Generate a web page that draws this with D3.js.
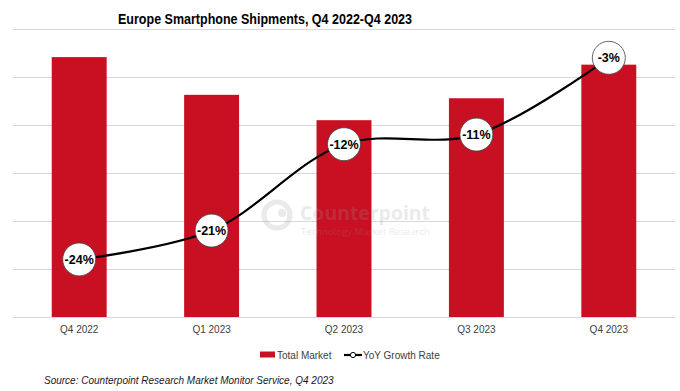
<!DOCTYPE html>
<html><head><meta charset="utf-8">
<script src="https://cdn.jsdelivr.net/npm/d3@7"></script>
<style>body{margin:0;background:#fff}svg{display:block}</style>
</head><body>
<svg id="c" width="680" height="391"></svg>
<script>
const categories = ["Q4 2022","Q1 2023","Q2 2023","Q3 2023","Q4 2023"];
const totalMarket = [37.9, 32.4, 28.7, 31.9, 36.8];
const yoyGrowth = [-24, -21, -12, -11, -3];
const yoyLabels = ["-24%","-21%","-12%","-11%","-3%"];
const leftTicks = [0, 7, 14, 21, 28, 35, 42];

const svg = d3.select("#c");
const W = 680, H = 391;
const m = {l: 13, r: 5, t: 29, b: 73};
const x = d3.scaleBand().domain(categories).range([m.l, W - m.r]).paddingInner(0.585).paddingOuter(0.2925);
const y = d3.scaleLinear().domain([0, 42]).range([H - m.b - 1, m.t]);
const y2 = d3.scaleLinear().domain([-30, 0]).range([H - m.b - 1, m.t]);

// title
svg.append("text").attr("x", 265).attr("y", 24).attr("text-anchor", "middle")
  .attr("font-family", "Liberation Sans, Arial, sans-serif").attr("font-weight", "bold")
  .attr("font-size", 15).attr("fill", "#000")
  .attr("textLength", 294).attr("lengthAdjust", "spacingAndGlyphs")
  .text("Europe Smartphone Shipments, Q4 2022-Q4 2023");

// gridlines
svg.append("g").selectAll("line").data(leftTicks).join("line")
  .attr("x1", m.l).attr("x2", W - m.r)
  .attr("y1", d => y(d) + 0.5).attr("y2", d => y(d) + 0.5)
  .attr("stroke", "#d9d9d9").attr("stroke-width", 1);

// bars
svg.append("g").selectAll("rect").data(totalMarket).join("rect")
  .attr("x", (d, i) => x(categories[i])).attr("width", x.bandwidth())
  .attr("y", d => y(d)).attr("height", d => y(0) - y(d))
  .attr("fill", "#C81022");

// watermark
const wm = svg.append("g").attr("opacity", 0.2);
wm.append("circle").attr("cx", 277).attr("cy", 215).attr("r", 13).attr("fill", "none").attr("stroke", "#9a9a9a").attr("stroke-width", 5);
wm.append("circle").attr("cx", 282).attr("cy", 213).attr("r", 4).attr("fill", "#9a9a9a");
wm.append("text").attr("x", 300).attr("y", 220).attr("font-family", "Open Sans, sans-serif").attr("font-weight", "bold")
  .attr("font-size", 20).attr("fill", "#9a9a9a").attr("textLength", 130).attr("lengthAdjust", "spacingAndGlyphs").text("Counterpoint");
wm.append("text").attr("x", 301).attr("y", 235).attr("font-family", "Open Sans, sans-serif")
  .attr("font-size", 9.5).attr("fill", "#9a9a9a").attr("textLength", 129).attr("lengthAdjust", "spacingAndGlyphs").text("Technology Market Research");

// x axis labels
const xAxis = d3.axisBottom(x).tickSize(0).tickPadding(9);
const gx = svg.append("g").attr("transform", `translate(0,${y(0)})`).call(xAxis);
gx.select(".domain").remove();
gx.selectAll("text").attr("font-family", "Liberation Sans, Arial, sans-serif").attr("font-size", 10).attr("fill", "#404040");

// line
const pts = yoyGrowth.map((v, i) => [x(categories[i]) + x.bandwidth() / 2, y2(v)]);
svg.append("path").attr("d", d3.line().curve(d3.curveCatmullRom.alpha(0.5))(pts))
  .attr("fill", "none").attr("stroke", "#000").attr("stroke-width", 2.2);

const lg = svg.append("g").selectAll("g").data(pts).join("g").attr("transform", d => `translate(${d[0]},${d[1]})`);
lg.append("circle").attr("r", 16.5).attr("fill", "#fff").attr("stroke", "#404040").attr("stroke-width", 0.8);
lg.append("text").attr("text-anchor", "middle").attr("dy", 4.5)
  .attr("font-family", "Liberation Sans, Arial, sans-serif").attr("font-weight", "bold").attr("font-size", 12.5).attr("fill", "#000")
  .text((d, i) => yoyLabels[i]);

// legend
const leg = svg.append("g").attr("font-family", "Liberation Sans, Arial, sans-serif").attr("font-size", 10).attr("fill", "#404040");
leg.append("rect").attr("x", 260).attr("y", 351.5).attr("width", 15).attr("height", 6).attr("fill", "#C81022");
leg.append("text").attr("x", 277).attr("y", 359).text("Total Market");
leg.append("line").attr("x1", 344).attr("x2", 362).attr("y1", 355).attr("y2", 355).attr("stroke", "#000").attr("stroke-width", 2.2);
leg.append("circle").attr("cx", 353).attr("cy", 355).attr("r", 2.6).attr("fill", "#fff").attr("stroke", "#000").attr("stroke-width", 1);
leg.append("text").attr("x", 363).attr("y", 359).text("YoY Growth Rate");

// source
svg.append("text").attr("x", 44).attr("y", 384).attr("font-family", "Liberation Sans, Arial, sans-serif")
  .attr("font-style", "italic").attr("font-size", 10).attr("fill", "#202020")
  .text("Source: Counterpoint Research Market Monitor Service, Q4 2023");
</script>
</body></html>
